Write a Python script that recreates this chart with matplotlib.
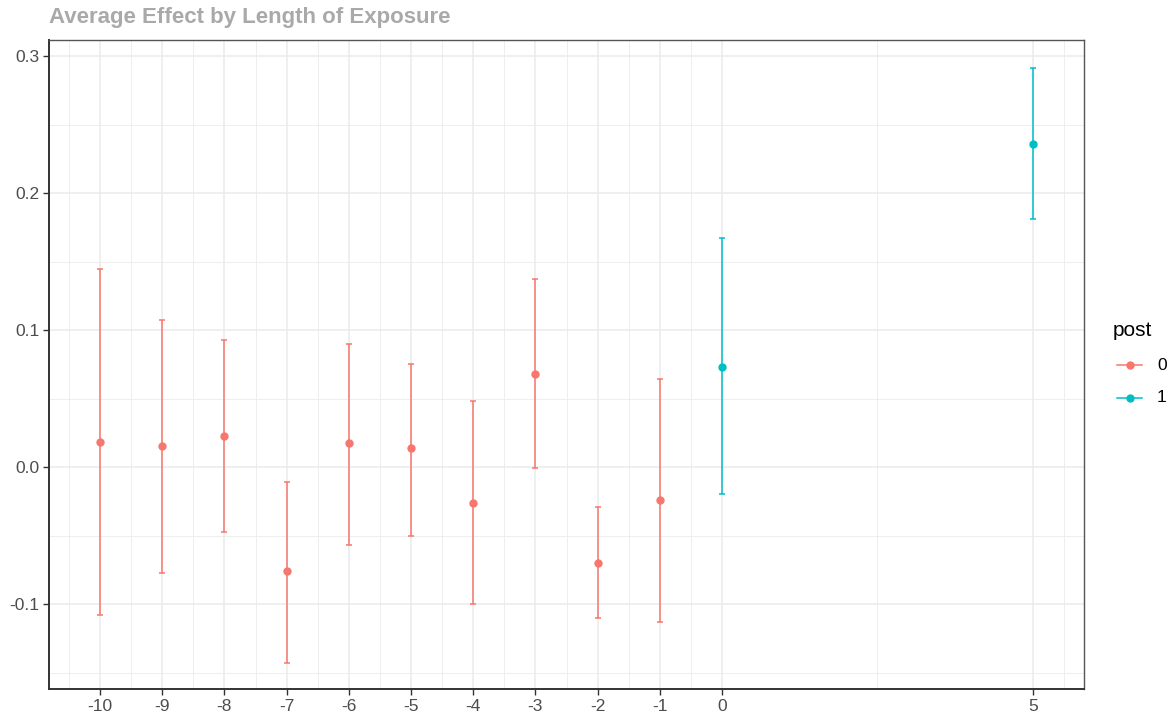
import numpy as np
import matplotlib.pyplot as plt
from matplotlib.lines import Line2D
from matplotlib.ticker import FixedLocator

# event-time estimates with 95% intervals
periods = [-10, -9, -8, -7, -6, -5, -4, -3, -2, -1, 0, 5]
estimate = [0.0185, 0.0154, 0.0224, -0.076, 0.0173, 0.014, -0.026, 0.068, -0.070, -0.024, 0.073, 0.236]
lower = [-0.1078, -0.077, -0.0473, -0.143, -0.0566, -0.050, -0.100, -0.001, -0.110, -0.113, -0.020, 0.181]
upper = [0.1446, 0.1075, 0.0924, -0.0112, 0.090, 0.075, 0.048, 0.137, -0.029, 0.064, 0.167, 0.291]
post = [0, 0, 0, 0, 0, 0, 0, 0, 0, 0, 1, 1]

x_breaks = [-10, -9, -8, -7, -6, -5, -4, -3, -2, -1, 0, 5]
x_minor = [-10.5, -9.5, -8.5, -7.5, -6.5, -5.5, -4.5, -3.5, -2.5, -1.5, -0.5, 2.5, 5.5]
y_breaks = [-0.1, 0.0, 0.1, 0.2, 0.3]
y_minor = [-0.15, -0.05, 0.05, 0.15, 0.25]

colors = {0: "#F8766D", 1: "#00BFC4"}

plt.rcParams["font.family"] = ["Liberation Sans", "DejaVu Sans"]

W, H = 1170, 717
fig = plt.figure(figsize=(W / 100, H / 100), dpi=100)
# panel box in pixels: left 49, right 1084, top 40, bottom 689
ax = fig.add_axes([49 / W, (H - 689) / H, (1084 - 49) / W, (689 - 40) / H])

x = np.array(periods, dtype=float)
est = np.array(estimate)
lo = np.array(lower)
hi = np.array(upper)
grp = np.array(post)

for g in (0, 1):
    m = grp == g
    ax.errorbar(x[m], est[m], yerr=[est[m] - lo[m], hi[m] - est[m]],
                fmt="o", color=colors[g], ms=5, elinewidth=1.1,
                capsize=2.3, capthick=1.1, zorder=3)

ax.set_xlim(-10.82, 5.82)
ax.set_ylim(-0.162, 0.3117)

ax.xaxis.set_major_locator(FixedLocator(x_breaks))
ax.xaxis.set_minor_locator(FixedLocator(x_minor))
ax.yaxis.set_major_locator(FixedLocator(y_breaks))
ax.yaxis.set_minor_locator(FixedLocator(y_minor))
ax.set_xticklabels([str(v) for v in x_breaks])
ax.set_yticklabels([f"{v:.1f}" for v in y_breaks])

ax.grid(which="major", color="#EBEBEB", lw=1.1, zorder=0)
ax.grid(which="minor", color="#EBEBEB", lw=0.6, zorder=0)
ax.set_axisbelow(True)

ax.tick_params(which="major", length=4, width=1, color="#333333",
               labelsize=12.5, labelcolor="#4D4D4D", pad=3)
ax.tick_params(which="minor", length=0)

for side in ("left", "bottom"):
    ax.spines[side].set_color("#333333")
    ax.spines[side].set_linewidth(1.4)
for side in ("top", "right"):
    ax.spines[side].set_color("#555555")
    ax.spines[side].set_linewidth(1.0)

fig.text(49 / W, 1 - 18 / H, "Average Effect by Length of Exposure", fontsize=16,
         fontweight="bold", color="#A9A9A9", ha="left", va="center")

# legend for the post indicator
fig.text(1113 / W, 1 - 330 / H, "post", fontsize=15, color="black",
         ha="left", va="center")
for g, ypx in ((0, 365), (1, 398)):
    yf = 1 - ypx / H
    fig.add_artist(Line2D([1117 / W, 1142 / W], [yf, yf], color=colors[g], lw=1.1,
                          transform=fig.transFigure))
    fig.add_artist(Line2D([1129.5 / W], [yf], color=colors[g], marker="o", ms=5,
                          transform=fig.transFigure))
    fig.text(1157 / W, yf, str(g), fontsize=12.5, color="black", ha="left", va="center")

fig.savefig("out.png", dpi=100)
